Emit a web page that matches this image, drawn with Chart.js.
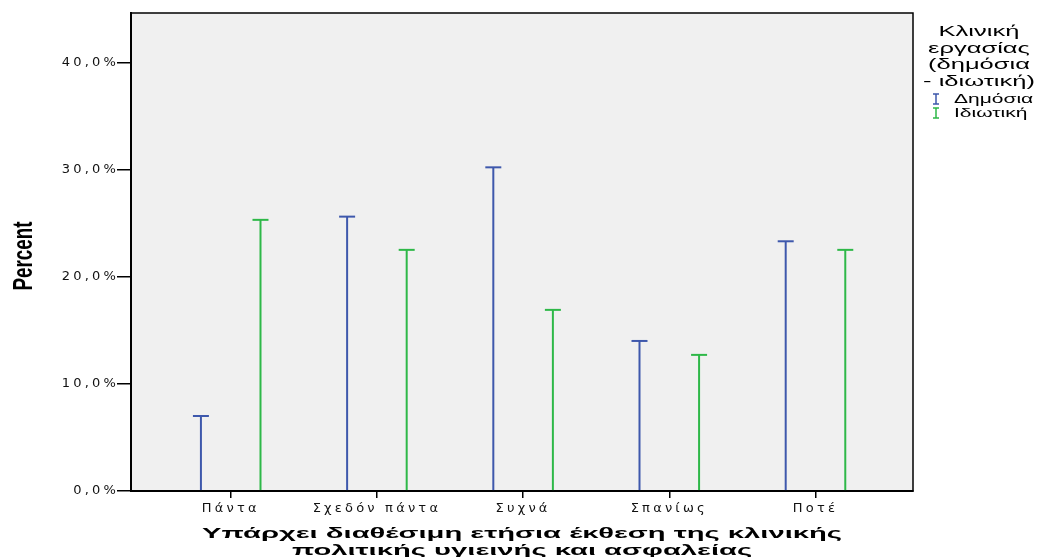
<!DOCTYPE html>
<html>
<head>
<meta charset="utf-8">
<title>Ετήσια έκθεση κλινικής πολιτικής</title>
<script src="https://cdn.jsdelivr.net/npm/chart.js"></script>
<style>
  html, body { margin: 0; padding: 0; background: #fff; }
  #chart { display: block; }
</style>
</head>
<body>
<canvas id="chart" width="1038" height="557"></canvas>
<script>
// data (percent)
const categories = ['Πάντα', 'Σχεδόν πάντα', 'Συχνά', 'Σπανίως', 'Ποτέ'];
const publicValues = [7.0, 25.6, 30.2, 14.0, 23.3];
const privateValues = [25.3, 22.5, 16.9, 12.7, 22.5];
const seriesLabels = ['Δημόσια', 'Ιδιωτική'];
const yTickValues = [0, 10, 20, 30, 40];
const legendTitle = ['Κλινική', 'εργασίας', '(δημόσια', '- ιδιωτική)'];
const xTitle = ['Υπάρχει διαθέσιμη ετήσια έκθεση της κλινικής', 'πολιτικής υγιεινής και ασφαλείας'];
const yTitle = 'Percent';

const BLUE = '#3e58ac';
const GREEN = '#2eb848';
const TICK_FONT = '"DejaVu Sans", sans-serif';
const ARIAL = '"Liberation Sans", Arial, sans-serif';
const STRETCH = 1.7; // SPSS output text is drawn wide

// text squeezed/stretched along its own direction
function wideText(ctx, text, x, y, font, k, align) {
  ctx.save();
  ctx.font = font;
  ctx.textAlign = align;
  ctx.translate(x, y);
  ctx.scale(k, 1);
  ctx.fillText(text, 0, 0);
  ctx.restore();
}

function iBeam(ctx, x, y, color) {
  ctx.save();
  ctx.strokeStyle = color;
  ctx.lineWidth = 1.5;
  ctx.beginPath();
  ctx.moveTo(x, y - 5); ctx.lineTo(x, y + 5);
  ctx.moveTo(x - 3, y - 5); ctx.lineTo(x + 3, y - 5);
  ctx.moveTo(x - 3, y + 5); ctx.lineTo(x + 3, y + 5);
  ctx.stroke();
  ctx.restore();
}

const spssFrame = {
  id: 'spssFrame',
  beforeDraw(chart) {
    const { ctx, chartArea: a } = chart;
    ctx.save();
    ctx.fillStyle = '#f0f0f0';
    ctx.fillRect(a.left, a.top, a.right - a.left, a.bottom - a.top);
    ctx.restore();
    // wide tick labels
    ctx.letterSpacing = '3.2px';
  },
  afterDatasetsDraw(chart) {
    const ctx = chart.ctx;
    chart.data.datasets.forEach((ds, i) => {
      ctx.save();
      ctx.strokeStyle = ds.backgroundColor;
      ctx.lineWidth = 2;
      chart.getDatasetMeta(i).data.forEach(bar => {
        ctx.beginPath();
        ctx.moveTo(bar.x - 8, bar.y);
        ctx.lineTo(bar.x + 8, bar.y);
        ctx.stroke();
      });
      ctx.restore();
    });
  },
  afterDraw(chart) {
    const { ctx, chartArea: a } = chart;
    ctx.save();
    ctx.letterSpacing = '0px';
    ctx.strokeStyle = '#000';
    ctx.lineWidth = 1.5;
    ctx.strokeRect(a.left, a.top, a.right - a.left, a.bottom - a.top);

    ctx.fillStyle = '#000';
    ctx.textBaseline = 'alphabetic';

    // y title, tall and narrow
    ctx.save();
    ctx.font = 'bold 28px ' + ARIAL;
    const sy = 69 / ctx.measureText(yTitle).width;
    ctx.translate(32, 256);
    ctx.rotate(-Math.PI / 2);
    wideText(ctx, yTitle, 0, 0, 'bold 28px ' + ARIAL, sy, 'center');
    ctx.restore();

    // x title
    const cx = (a.left + a.right) / 2;
    ctx.font = 'bold 15px ' + ARIAL;
    const kx = 640 / ctx.measureText(xTitle[0]).width;
    wideText(ctx, xTitle[0], cx, 538, 'bold 15px ' + ARIAL, kx, 'center');
    wideText(ctx, xTitle[1], cx, 555, 'bold 15px ' + ARIAL, kx, 'center');

    // legend
    legendTitle.forEach((t, i) => wideText(ctx, t, 979, 36 + i * 16.5, '15px ' + ARIAL, STRETCH, 'center'));
    chart.data.datasets.forEach((ds, i) => {
      const y = 103 + i * 14;
      iBeam(ctx, 936, y - 4, ds.backgroundColor);
      ctx.fillStyle = '#000';
      wideText(ctx, ds.label, 954, y, '12px ' + ARIAL, 1.75, 'left');
    });
    ctx.restore();
  }
};

new Chart(document.getElementById('chart'), {
  type: 'bar',
  data: {
    datasets: [
      {
        label: seriesLabels[0],
        data: publicValues.map((v, i) => ({ x: i, y: v })),
        backgroundColor: BLUE,
        borderWidth: 0
      },
      {
        label: seriesLabels[1],
        data: privateValues.map((v, i) => ({ x: i, y: v })),
        backgroundColor: GREEN,
        borderWidth: 0
      }
    ]
  },
  options: {
    responsive: false,
    animation: false,
    devicePixelRatio: 1,
    categoryPercentage: 0.815,
    barPercentage: 0.1,
    maxBarThickness: 2,
    layout: { padding: { left: 0, top: 13, right: 125, bottom: 0 } },
    plugins: { legend: { display: false }, tooltip: { enabled: false } },
    scales: {
      x: {
        type: 'linear',
        offset: false,
        min: -0.682,
        max: 4.667,
        afterBuildTicks: s => { s.ticks = categories.map((c, i) => ({ value: i })); },
        afterFit: s => { s.height = 66; },
        ticks: {
          autoSkip: false,
          maxRotation: 0,
          padding: 3,
          color: '#111',
          font: { family: TICK_FONT, size: 13 },
          callback: v => categories[v]
        },
        grid: { offset: false, drawOnChartArea: false, drawTicks: true, tickLength: 7, color: '#000', lineWidth: 1.5 },
        border: { display: true, color: '#000', width: 2 }
      },
      y: {
        min: 0,
        max: 44.6,
        afterBuildTicks: s => { s.ticks = yTickValues.map(v => ({ value: v })); },
        afterFit: s => { s.width = 131; },
        ticks: {
          padding: -2,
          color: '#111',
          font: { family: TICK_FONT, size: 13 },
          callback: v => v.toFixed(1).replace('.', ',') + '%'
        },
        grid: { drawOnChartArea: false, drawTicks: true, tickLength: 14, color: '#000', lineWidth: 1.5 },
        border: { display: true, color: '#000', width: 2 }
      }
    }
  },
  plugins: [spssFrame]
});
</script>
</body>
</html>
